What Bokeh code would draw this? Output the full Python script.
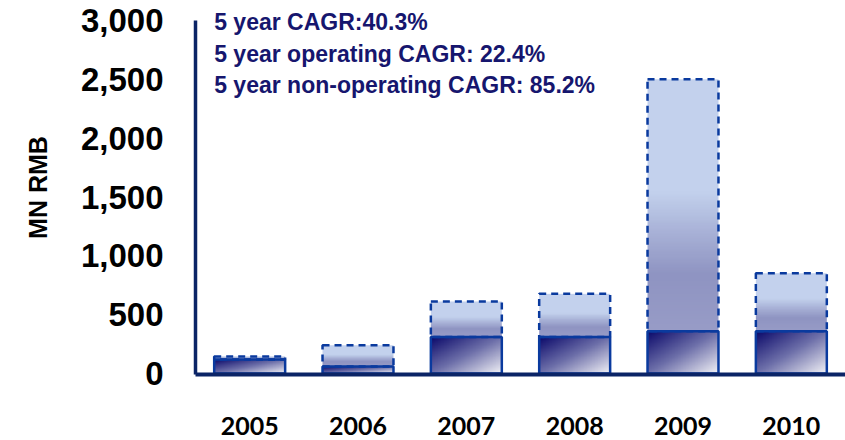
import numpy as np
from bokeh.plotting import figure
from bokeh.models import FactorRange, Range1d, FixedTicker, NumeralTickFormatter, Label
from bokeh.embed import file_html
from bokeh.resources import INLINE

# ---------------- data ----------------
years = ["2005", "2006", "2007", "2008", "2009", "2010"]
operating = [120, 60, 310, 310, 360, 360]          # MN RMB, solid lower part
total = [145, 240, 612, 677, 2500, 852]            # MN RMB, top of dashed part
y_ticks = [0, 500, 1000, 1500, 2000, 2500, 3000]
notes = ["5 year CAGR:40.3%",
         "5 year operating CAGR: 22.4%",
         "5 year non-operating CAGR: 85.2%"]
note_y = [2987, 2715, 2448]
y_label = "MN RMB"

Y_MIN, Y_MAX, Y_TOP = -8.5, 3000, 3170
BAR_W = 0.655
NAVY = "#0B2466"
EDGE = "#0A3A9E"


def hex2rgb(h):
    return np.array([int(h[i:i + 2], 16) for i in (1, 3, 5)], float)


def interp(stops, t):
    pos = np.array([s[0] for s in stops])
    cols = np.array([hex2rgb(s[1]) for s in stops])
    out = np.stack([np.interp(t, pos, cols[:, k]) for k in range(3)], axis=-1)
    return out


def pack(rgb):
    h, w, _ = rgb.shape
    img = np.empty((h, w), dtype=np.uint32)
    view = img.view(dtype=np.uint8).reshape((h, w, 4))
    c = np.clip(rgb, 0, 255).astype(np.uint8)
    view[..., 0] = c[..., 0]
    view[..., 1] = c[..., 1]
    view[..., 2] = c[..., 2]
    view[..., 3] = 255
    return img


N = 96
rows = np.arange(N)[:, None] / (N - 1)      # 0 bottom .. 1 top
cols = np.arange(N)[None, :] / (N - 1)      # 0 left .. 1 right
from_top = 1.0 - rows

op_stops = [(0.0, "#0A086A"), (0.5, "#6E70AA"), (1.0, "#F4F4F8")]
t_op = np.broadcast_to((cols + from_top) / 2.0, (N, N))
op_img = pack(interp(op_stops, t_op))

non_stops = [(0.0, "#C3D1ED"), (0.45, "#C3D1ED"), (0.62, "#A7B0D6"),
             (0.78, "#8F94C2"), (1.0, "#989CC7")]
t_non = np.broadcast_to(from_top, (N, N))
non_img = pack(interp(non_stops, t_non))

# ---------------- figure ----------------
p = figure(x_range=FactorRange(*years, range_padding=0),
           y_range=Range1d(Y_MIN, Y_TOP),
           width=845, height=440,
           min_border_left=195, min_border_right=0,
           min_border_top=0, min_border_bottom=66,
           output_backend="svg", toolbar_location=None)
p.outline_line_color = None
p.grid.visible = False
p.background_fill_color = "white"
p.border_fill_color = "white"

x_left = [i + 0.5 - BAR_W / 2 for i in range(len(years))]
non_op = [t - o for t, o in zip(total, operating)]

# gradient fills
p.image_rgba(image=[op_img] * len(years), x=x_left, y=[0] * len(years),
             dw=[BAR_W] * len(years), dh=operating)
p.image_rgba(image=[non_img] * len(years), x=x_left, y=operating,
             dw=[BAR_W] * len(years), dh=non_op)

# outlines
p.vbar(x=years, bottom=operating, top=total, width=BAR_W,
       fill_color=None, line_color=EDGE, line_width=2.5, line_dash="7 5")
p.vbar(x=years, bottom=0, top=operating, width=BAR_W,
       fill_color=None, line_color=EDGE, line_width=2.5)

# notes
for txt, yy in zip(notes, note_y):
    p.add_layout(Label(x=x_left[0], y=yy, text=txt,
                       text_font="Liberation Sans", text_font_style="bold",
                       text_font_size="23px", text_color="#16166E",
                       text_baseline="alphabetic", text_align="left"))

# axes
p.yaxis.ticker = FixedTicker(ticks=y_ticks)
p.yaxis.bounds = (Y_MIN, Y_MAX)
p.yaxis.formatter = NumeralTickFormatter(format="0,0")
p.yaxis.major_label_text_font = "Liberation Sans"
p.yaxis.major_label_text_font_style = "bold"
p.yaxis.major_label_text_font_size = "33px"
p.yaxis.major_label_text_color = "black"
p.yaxis.major_label_standoff = 26
p.yaxis.axis_label = y_label
p.yaxis.axis_label_text_font = "Liberation Sans"
p.yaxis.axis_label_text_font_style = "bold"
p.yaxis.axis_label_text_font_size = "25px"
p.yaxis.axis_label_text_color = "black"
p.yaxis.axis_label_standoff = 26
p.yaxis.axis_line_color = NAVY
p.yaxis.axis_line_width = 3.5

p.xaxis.major_label_text_font = "Lato"
p.xaxis.major_label_text_font_style = "bold"
p.xaxis.major_label_text_font_size = "25px"
p.xaxis.major_label_text_color = "black"
p.xaxis.major_label_standoff = 36
p.xaxis.axis_line_color = NAVY
p.xaxis.axis_line_width = 4

for ax in (p.xaxis, p.yaxis):
    ax.major_tick_line_color = None
    ax.minor_tick_line_color = None

open("out.html", "w").write(file_html(p, INLINE))
